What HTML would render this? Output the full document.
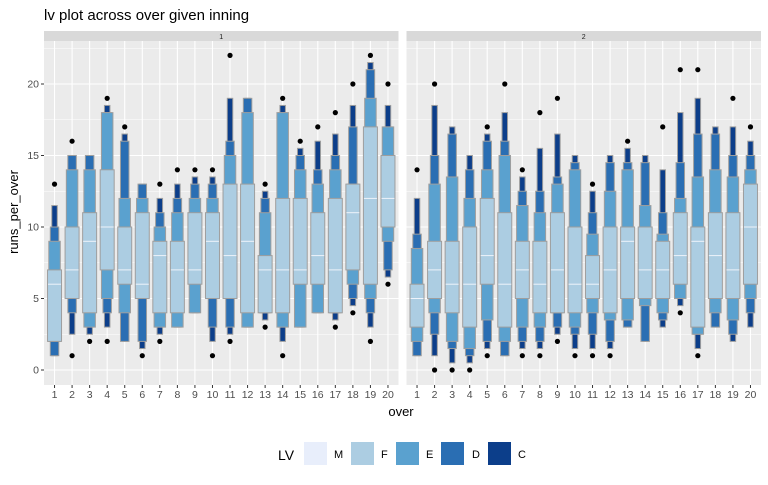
<!DOCTYPE html>
<html><head><meta charset="utf-8"><style>
body{margin:0;background:#fff;font-family:"Liberation Sans",sans-serif}
svg text{font-family:"Liberation Sans",sans-serif}
</style></head><body>
<svg id="chart" width="768" height="480" xmlns="http://www.w3.org/2000/svg">
<text x="44" y="20" font-size="15" fill="#000">lv plot across over given inning</text>
<g id="panels"></g>
<text x="401" y="416" font-size="13" text-anchor="middle" fill="#000">over</text>
<text transform="translate(18,212) rotate(-90)" font-size="13" text-anchor="middle" fill="#000">runs_per_over</text>
<g>
<text x="278" y="460" font-size="14" fill="#000">LV</text>
<rect x="304" y="442" width="23" height="23" fill="#e8eefb"/>
<text x="334" y="458" font-size="11" fill="#000">M</text>
<rect x="351" y="442" width="23" height="23" fill="#accde2"/>
<text x="381" y="458" font-size="11" fill="#000">F</text>
<rect x="396" y="442" width="23" height="23" fill="#5aa1cf"/>
<text x="426" y="458" font-size="11" fill="#000">E</text>
<rect x="441" y="442" width="23" height="23" fill="#2a6eb3"/>
<text x="472" y="458" font-size="11" fill="#000">D</text>
<rect x="488" y="442" width="23" height="23" fill="#0c3e8a"/>
<text x="518" y="458" font-size="11" fill="#000">C</text>
</g>
</svg>
<script>
const overs=[1,2,3,4,5,6,7,8,9,10,11,12,13,14,15,16,17,18,19,20];
const yTicks=[0,5,10,15,20];
const p1FLo=[2,5,4,7,6,5,4,4,6,5,5,4,4,4,6,6,4,7,6,10];
const p1FHi=[7,10,11,14,10,11,9,9,11,11,13,13,8,12,12,11,12,13,17,15];
const p1ELo=[2,5,3,5,4,5,3,3,4,5,5,3,4,3,3,4,4,6,5,9];
const p1EHi=[9,14,14,18,12,12,10,11,12,12,15,18,11,18,14,13,14,13,19,17];
const p1DLo=[1,4,3,4,2,2,3,3,4,3,3,3,4,3,3,4,4,5,4,7];
const p1DHi=[10,15,15,18,16,13,11,12,13,13,16,19,12,18,15,14,15,17,21,17];
const p1CLo=[1,2.5,2.5,3,2,1.5,2.5,3,4,2,2.5,3,3.5,2,3,4,3.5,4.5,3,6.5];
const p1CHi=[11.5,15,15,18.5,16.5,13,12,13,13.5,13.5,19,19,12.5,18.5,15.5,16,16.5,18.5,21.5,18.5];
const p1Med=[6,7,9,10,7,6,8,7,7,9,8,9,7,7,7,8,7,11,12,12];
const p1Out=[[13],[16,1],[2],[19,2],[17],[1],[13,2],[14],[14],[14,1],[22,2],[],[13,3],[19,1],[16],[17],[18,3],[20,4],[22,2],[20,6]];
const p2FLo=[3,5,4,3,6,3,5,4,4,4,5,4,5,5,5,6,3,5,5,6];
const p2FHi=[6,9,9,10,12,11,9,9,11,10,8,10,10,10,9,11,10,11,11,13];
const p2ELo=[2,4,2,1.5,3.5,2,3,3,4,3,4,3.5,3.5,4.5,4,5,2.5,4,3.5,5];
const p2EHi=[8.5,13,13.5,12,14,15,11.5,11,13,14,9.5,12.5,14,11.5,9.5,12,13.5,14,13.5,14];
const p2DLo=[1,2.5,1.5,1,2,1,2,2,3,2.5,2.5,2,3,2,3.5,5,2.5,3,2.5,4];
const p2DHi=[9.5,15,16.5,14,16,16,12.5,12.5,13.5,14.5,11,14.5,14.5,14.5,11,14.5,16.5,16.5,15,15];
const p2CLo=[1,1,0.5,0.5,1.5,1,1.5,1.5,2.5,1.5,1.5,1.5,3,2,3,4.5,1.5,3,2,3];
const p2CHi=[12,18.5,17,15,16.5,18,13.5,15.5,16.5,15,12.5,15,15.5,15,14,18,19,17,17,16];
const p2Med=[5,7,6,6,8,6,7,6,7,6,6,7,9,7,7,8,9,8,7,10];
const p2Out=[[14],[20,0],[0],[0],[17,1],[20],[14,1],[18,1],[19,2],[1],[13,1],[1],[16],[],[17],[21,4],[21,1],[],[19],[17]];

const NS='http://www.w3.org/2000/svg';
const panelTop=41, panelBot=385;
function yScale(v){return 370-v*14.3;}
function mk(tag,attrs,parent){const e=document.createElementNS(NS,tag);for(const k in attrs)e.setAttribute(k,attrs[k]);parent.appendChild(e);return e;}
const root=document.getElementById('panels');
const panels=[
 {x0:44,x1:398.5,label:'1',fLo:p1FLo,fHi:p1FHi,eLo:p1ELo,eHi:p1EHi,dLo:p1DLo,dHi:p1DHi,cLo:p1CLo,cHi:p1CHi,med:p1Med,out:p1Out},
 {x0:406.5,x1:761,label:'2',fLo:p2FLo,fHi:p2FHi,eLo:p2ELo,eHi:p2EHi,dLo:p2DLo,dHi:p2DHi,cLo:p2CLo,cHi:p2CHi,med:p2Med,out:p2Out}
];
panels.forEach((p,pi)=>{
 const g=mk('g',{},root);
 
 
 const w=p.x1-p.x0;
 const step=w/(overs.length+0.2);
 function xScale(o){return p.x0+step*0.6+(o-1)*step;}
 const strip=mk('rect',{x:p.x0,y:31,width:w,height:10,fill:'#d9d9d9'},g);
 
 
 const st=mk('text',{x:(p.x0+p.x1)/2,y:39,'font-size':7,'text-anchor':'middle',fill:'#1a1a1a'},g);
 st.textContent=p.label;
 
 
 const bg=mk('rect',{x:p.x0,y:panelTop,width:w,height:panelBot-panelTop,fill:'#ebebeb'},g);
 
 
 for(let v=-2.5;v<=22.5;v+=2.5){
  const yy=yScale(v); if(yy<panelTop||yy>panelBot) continue;
  const major=(v%5===0);
  const gl=mk('line',{x1:p.x0,x2:p.x1,y1:yy,y2:yy,stroke:'#fff','stroke-width':major?1.1:0.5},g);
  
  
 }
 overs.forEach(o=>{
  const xx=xScale(o);
  const gl=mk('line',{x1:xx,x2:xx,y1:panelTop,y2:panelBot,stroke:'#fff','stroke-width':1.1},g);
  
  
  const tk=mk('line',{x1:xx,x2:xx,y1:panelBot,y2:panelBot+3,stroke:'#333','stroke-width':1},g);
  
  
  const tl=mk('text',{x:xx,y:panelBot+13,'font-size':10.5,'text-anchor':'middle',fill:'#4d4d4d'},g);
  tl.textContent=o;
  
  
 });
 if(pi===0){
  yTicks.forEach(t=>{
   const yy=yScale(t);
   const tk=mk('line',{x1:p.x0-3,x2:p.x0,y1:yy,y2:yy,stroke:'#333','stroke-width':1},g);
   
   
   const tl=mk('text',{x:p.x0-5,y:yy+3.5,'font-size':10.5,'text-anchor':'end',fill:'#4d4d4d'},g);
   tl.textContent=t;
   
   
  });
 }
 const levels=[
  {lo:p.cLo,hi:p.cHi,w:5.5,fill:'#0c3e8a',n:'c'},
  {lo:p.dLo,hi:p.dHi,w:8.5,fill:'#2a6eb3',n:'d'},
  {lo:p.eLo,hi:p.eHi,w:11.5,fill:'#5aa1cf',n:'e'},
  {lo:p.fLo,hi:p.fHi,w:14,fill:'#accde2',n:'f'}
 ];
 overs.forEach((o,i)=>{
  const xx=xScale(o);
  levels.forEach(L=>{
   const y1=yScale(L.hi[i]), y2=yScale(L.lo[i]);
   const r=mk('rect',{x:xx-L.w/2,y:y1,width:L.w,height:Math.max(0.5,y2-y1),fill:L.fill,stroke:'#9e9e9e','stroke-width':1},g);
   
   
  });
  const my=yScale(p.med[i]);
  const ml=mk('line',{x1:xx-6.5,x2:xx+6.5,y1:my,y2:my,stroke:'#eef3fb','stroke-width':1},g);
  
  
  p.out[i].forEach(v=>{
   const c=mk('circle',{cx:xx,cy:yScale(v),r:2.6,fill:'#000'},g);
   
   
  });
 });
});
</script>
</body></html>
